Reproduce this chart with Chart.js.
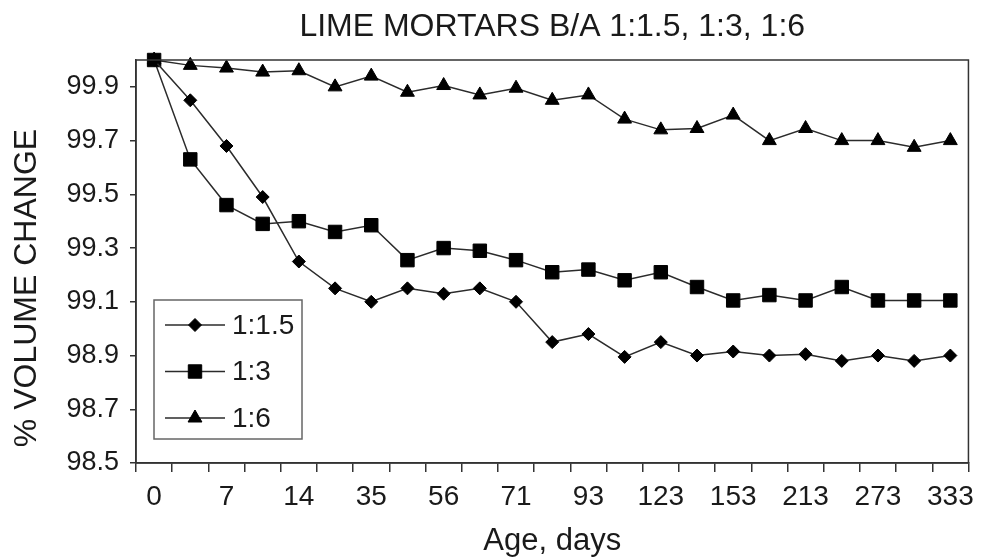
<!DOCTYPE html>
<html lang="en">
<head>
    <meta charset="UTF-8">
    <title>Lime mortars volume change</title>
    <script src="https://cdn.jsdelivr.net/npm/chart.js"></script>
    <style>
      body { margin: 0; background: #fff; }
      #wrap { width: 982px; height: 560px; }
    </style>
</head>
<body>
    <div id="wrap">
        <canvas id="grafico" width="982" height="560"></canvas>
    </div>

    <script>
      // ages (days), only every second tick is labelled in the original
      let xLabels = ['0','','7','','14','','35','','56','','71','','93','','123','','153','','213','','273','','333']
      let yTicks = [98.5, 98.7, 98.9, 99.1, 99.3, 99.5, 99.7, 99.9]

      let seriesNames = ['1:1.5', '1:3', '1:6']
      let mix15 = [100, 99.85, 99.68, 99.49, 99.25, 99.15, 99.10, 99.15, 99.13, 99.15, 99.10, 98.95,
                   98.98, 98.895, 98.95, 98.90, 98.915, 98.90, 98.905, 98.88, 98.90, 98.88, 98.90]
      let mix3  = [100, 99.63, 99.46, 99.39, 99.40, 99.36, 99.385, 99.255, 99.30, 99.29, 99.255, 99.21,
                   99.22, 99.18, 99.21, 99.155, 99.105, 99.125, 99.105, 99.155, 99.105, 99.105, 99.105]
      let mix6  = [100, 99.98, 99.97, 99.955, 99.96, 99.90, 99.94, 99.88, 99.905, 99.87, 99.895, 99.85,
                   99.87, 99.78, 99.74, 99.745, 99.795, 99.70, 99.745, 99.70, 99.70, 99.675, 99.70]

      const fonte = 'Liberation Sans, Arial, Helvetica, sans-serif'
      const tinta = '#1a1a1a'

      const serie = (label, data, style, radius) => ({
        label: label,
        data: data,
        borderColor: '#2b2b2b',
        borderWidth: 1.5,
        pointStyle: style,
        pointRadius: radius,
        pointHoverRadius: radius,
        pointBackgroundColor: '#000',
        pointBorderColor: '#000',
        pointBorderWidth: 1,
        tension: 0,
        clip: false
      })

      // frame around the plot area
      const moldura = {
        id: 'moldura',
        afterDatasetsDraw(chart) {
          const a = chart.chartArea, c = chart.ctx
          c.save()
          c.strokeStyle = '#333'
          c.lineWidth = 1.5
          c.strokeRect(a.left, a.top, a.right - a.left, a.bottom - a.top)
          c.restore()
        }
      }

      // rotated y title, placed like the original
      const tituloY = {
        id: 'tituloY',
        afterDraw(chart) {
          const c = chart.ctx
          c.save()
          c.translate(27, 288)
          c.rotate(-Math.PI / 2)
          c.font = '32px ' + fonte
          c.fillStyle = tinta
          c.textAlign = 'center'
          c.textBaseline = 'middle'
          c.fillText('% VOLUME CHANGE', 0, 0)
          c.restore()
        }
      }

      // boxed legend inside the plot, line + marker like the original
      const legenda = {
        id: 'legenda',
        afterDraw(chart) {
          const a = chart.chartArea, c = chart.ctx
          const x0 = a.left + 18, y0 = a.bottom - 163, w = 148, h = 139
          c.save()
          c.fillStyle = '#fff'
          c.fillRect(x0, y0, w, h)
          c.strokeStyle = '#666'
          c.lineWidth = 1.5
          c.strokeRect(x0, y0, w, h)
          chart.data.datasets.forEach((ds, i) => {
            const y = y0 + 25 + i * 46.5
            c.strokeStyle = ds.borderColor
            c.lineWidth = ds.borderWidth
            c.beginPath()
            c.moveTo(x0 + 11, y)
            c.lineTo(x0 + 71, y)
            c.stroke()
            c.fillStyle = '#000'
            c.strokeStyle = '#000'
            c.lineWidth = 1
            Chart.helpers.drawPoint(c, {pointStyle: ds.pointStyle, radius: ds.pointRadius, rotation: 0, borderWidth: 1}, x0 + 41, y)
            c.fillStyle = tinta
            c.font = '28px ' + fonte
            c.textAlign = 'left'
            c.textBaseline = 'middle'
            c.fillText(ds.label, x0 + 78, y + 1)
          })
          c.restore()
        }
      }

      const ctx = document.getElementById('grafico')

      let grafico1 = new Chart(ctx, {
        type: 'line',
        data: {
          labels: xLabels,
          datasets: [
            serie(seriesNames[0], mix15, 'rectRot', 6.5),
            serie(seriesNames[1], mix3, 'rect', 9.5),
            serie(seriesNames[2], mix6, 'triangle', 8)
          ]
        },
        options: {
          responsive: false,
          animation: false,
          events: [],
          layout: { padding: { left: 0, right: 11.5, top: 0, bottom: 0 } },
          plugins: {
            legend: { display: false },
            tooltip: { enabled: false },
            title: {
              display: true,
              text: 'LIME MORTARS B/A 1:1.5, 1:3, 1:6',
              fullSize: false,
              color: tinta,
              font: { family: fonte, size: 32, weight: 'normal' },
              padding: { top: 8, bottom: 13.6 }
            }
          },
          scales: {
            x: {
              type: 'category',
              offset: true,
              afterFit(s) { s.height = 97 },
              grid: { offset: true, drawOnChartArea: false, drawTicks: true, tickLength: 9, color: '#333', lineWidth: 1.5 },
              border: { display: true, color: '#333', width: 1.5 },
              ticks: { autoSkip: false, maxRotation: 0, padding: 8, color: tinta, font: { family: fonte, size: 28 } },
              title: {
                display: true,
                text: 'Age, days',
                color: tinta,
                font: { family: fonte, size: 31 },
                padding: { top: 0, bottom: 0 }
              }
            },
            y: {
              min: 98.5,
              max: 100,
              afterFit(s) { s.width = 136 },
              afterBuildTicks(s) { s.ticks = yTicks.map(v => ({ value: v })) },
              grid: { drawOnChartArea: false, drawTicks: true, tickLength: 6, color: '#333', lineWidth: 1.5 },
              border: { display: true, color: '#333', width: 1.5 },
              ticks: {
                padding: 11,
                color: tinta,
                font: { family: fonte, size: 27 },
                callback: v => Number(v).toFixed(1)
              }
            }
          }
        },
        plugins: [moldura, tituloY, legenda]
      })
    </script>
</body>
</html>
